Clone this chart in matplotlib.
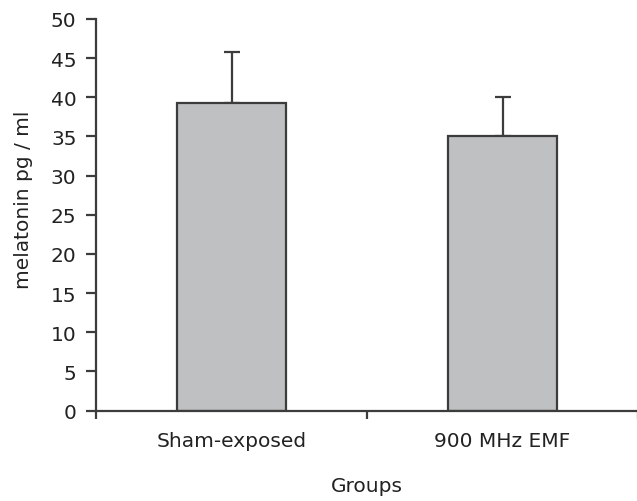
import numpy as np
import matplotlib
matplotlib.use("Agg")
from matplotlib import pyplot as plt

plt.rcParams['font.family'] = ['DejaVu Sans']

groups = ["Sham-exposed", "900 MHz EMF"]
means = [39.3, 35.0]
sd_upper = [6.45, 5.0]

edge = '#3c3c3c'
txt = '#222222'
fs = 14.5

fig = plt.figure(figsize=(6.37, 5.02), dpi=100)
ax = fig.add_axes([0.1507, 0.18, 0.851, 0.7802])

x = np.arange(len(groups)) + 0.5
ax.bar(x, means, width=0.405, color='#bfc0c2', edgecolor=edge, linewidth=1.6, zorder=2)
ax.errorbar(x, means, yerr=[np.zeros(len(means)), sd_upper], fmt='none',
            ecolor=edge, elinewidth=1.6, capsize=6, capthick=1.6, zorder=1)

ax.set_xlim(0, 2)
ax.set_ylim(0, 50)
ax.set_yticks(np.arange(0, 51, 5))

# category labels between, tick marks on boundaries
ax.set_xticks(x)
ax.set_xticklabels(groups)
ax.tick_params(axis='x', which='major', length=0, pad=15, labelsize=fs, colors=txt)
ax.set_xticks([0, 1, 2], minor=True)
ax.tick_params(axis='x', which='minor', length=6, width=1.6, color=edge, direction='out')
ax.tick_params(axis='y', length=7, width=1.6, color=edge, pad=7, labelsize=fs,
               labelcolor=txt)

for s in ['top', 'right']:
    ax.spines[s].set_visible(False)
for s in ['left', 'bottom']:
    ax.spines[s].set_linewidth(1.6)
    ax.spines[s].set_color(edge)

ax.set_xlabel("Groups", fontsize=fs, color=txt)
ax.xaxis.set_label_coords(0.5, -0.168)
ax.set_ylabel("melatonin pg / ml", fontsize=fs, color=txt)
ax.yaxis.set_label_coords(-0.117, 0.54)

fig.savefig("out.png", dpi=100)
